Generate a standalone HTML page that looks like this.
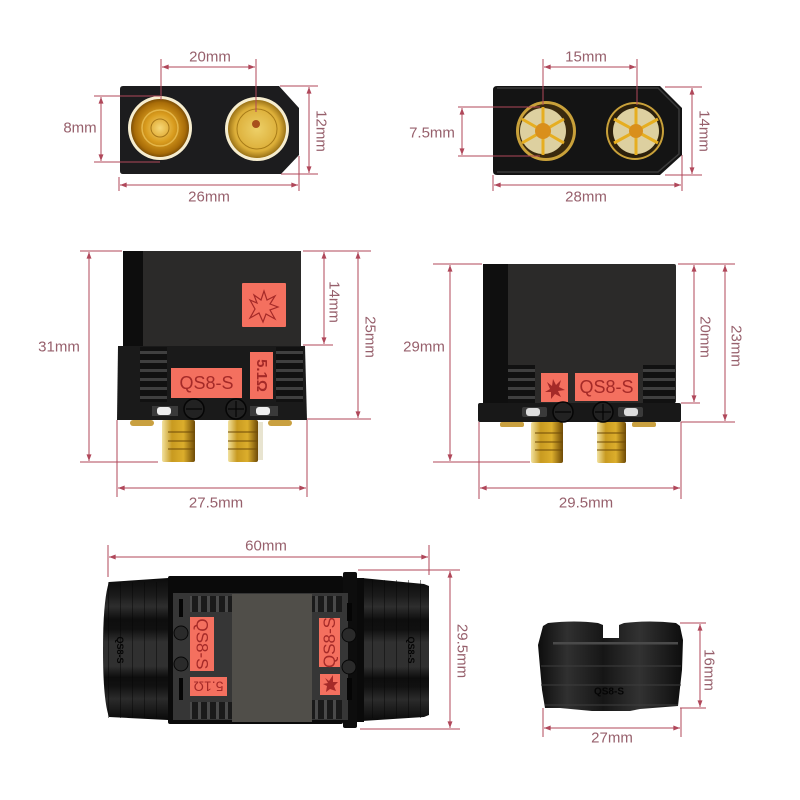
<!DOCTYPE html>
<html lang="en"><head><meta charset="utf-8"><title>QS8-S connector dimensions</title>
<style>
html,body{margin:0;padding:0;background:#fff}
svg{display:block;filter:blur(.35px)}
text{font-family:"Liberation Sans",sans-serif}
.d{font-size:15px;fill:#97606c;text-anchor:middle;dominant-baseline:central}
.l{fill:none;stroke:#b0475a;stroke-width:1}
.a{marker-start:url(#ar);marker-end:url(#ar)}
.lab{fill:#f4705f}
.t{fill:#a52a28;text-anchor:middle;dominant-baseline:central}
</style></head><body>
<svg width="800" height="800" viewBox="0 0 800 800" xmlns="http://www.w3.org/2000/svg">
<defs>
<marker id="ar" viewBox="0 0 8 6" refX="8" refY="3" markerWidth="7" markerHeight="5" orient="auto-start-reverse" markerUnits="userSpaceOnUse"><path d="M0 0L8 3L0 6Z" fill="#b0475a"/></marker>
<radialGradient id="g1" cx=".5" cy=".5" r=".55"><stop offset="0" stop-color="#f6d878"/><stop offset=".45" stop-color="#d99c1e"/><stop offset=".8" stop-color="#a86c08"/><stop offset="1" stop-color="#5a3604"/></radialGradient>
<radialGradient id="g2" cx=".5" cy=".5" r=".55"><stop offset="0" stop-color="#edd068"/><stop offset=".7" stop-color="#dcae38"/><stop offset="1" stop-color="#7e5808"/></radialGradient>
<linearGradient id="pin" x1="0" x2="1" y1="0" y2="0"><stop offset="0" stop-color="#f2e2a0"/><stop offset=".3" stop-color="#c89a20"/><stop offset=".65" stop-color="#dcae2c"/><stop offset="1" stop-color="#6e4a06"/></linearGradient>
<linearGradient id="hood" x1="0" x2="0" y1="0" y2="1"><stop offset="0" stop-color="#0c0c0c"/><stop offset=".12" stop-color="#1a1a1a"/><stop offset=".2" stop-color="#2e2e2e"/><stop offset=".29" stop-color="#0e0e0e"/><stop offset=".36" stop-color="#101010"/><stop offset=".45" stop-color="#303030"/><stop offset=".62" stop-color="#303030"/><stop offset=".7" stop-color="#0d0d0d"/><stop offset=".76" stop-color="#111"/><stop offset=".85" stop-color="#2b2b2b"/><stop offset="1" stop-color="#0a0a0a"/></linearGradient>
<linearGradient id="cap" x1="0" x2="1" y1="0" y2="0"><stop offset="0" stop-color="#0d0d0d"/><stop offset=".2" stop-color="#303030"/><stop offset=".45" stop-color="#161616"/><stop offset=".7" stop-color="#323232"/><stop offset="1" stop-color="#0d0d0d"/></linearGradient>
<pattern id="rib" width="6" height="9" patternUnits="userSpaceOnUse"><rect width="6" height="9" fill="#111"/><rect y="0" width="6" height="3" fill="#404040"/></pattern>
<pattern id="vrib" width="9" height="6" patternUnits="userSpaceOnUse"><rect width="9" height="6" fill="#1a1a1a"/><rect width="3" height="6" fill="#4a4a4a"/></pattern>
<pattern id="hrib2" width="12" height="6" patternUnits="userSpaceOnUse"><rect width="1" height="6" fill="#050505" opacity=".45"/></pattern>
</defs>
<rect width="800" height="800" fill="#fff"/>

<!-- Panel 1 -->
<path d="M123 86H279L299 108V155L281 174H123Q120 174 120 171V89Q120 86 123 86Z" fill="#1c1c1e"/>
<circle cx="160" cy="128" r="32" fill="#f6edcf"/><circle cx="160" cy="128" r="29" fill="url(#g1)"/>
<circle cx="160" cy="128" r="18" fill="none" stroke="#f0c860" stroke-width="1.5" opacity=".7"/><circle cx="160" cy="128" r="9" fill="none" stroke="#8c5c08" stroke-width="1" opacity=".7"/>
<circle cx="257" cy="129" r="32" fill="#f6edcf"/><circle cx="257" cy="129" r="29" fill="url(#g2)"/>
<circle cx="257" cy="129" r="20" fill="none" stroke="#a87c18" stroke-width="1"/><circle cx="256" cy="124" r="4" fill="#a8501c"/>
<g class="l">
<path d="M161 59V100M256 59V112M94 96H160M94 162H160M280 86H318M281 174H318M119 177V191M299 156V191"/>
<path class="a" d="M162 67H255"/><path class="a" d="M101 97V161"/><path class="a" d="M309 87V173"/><path class="a" d="M120 185H298"/>
</g>
<text class="d" x="210" y="57">20mm</text><text class="d" x="80" y="128">8mm</text>
<text class="d" transform="translate(321 131) rotate(90)">12mm</text><text class="d" x="209" y="197">26mm</text>

<!-- Panel 2 -->
<path d="M497 86H660L682 108V155L660 175H497Q493 175 493 171V90Q493 86 497 86Z" fill="#141414"/>
<path d="M497 88H658L679 109V154L658 172H497" fill="none" stroke="#3a3a3a" stroke-width="1.5"/>
<circle cx="546" cy="131" r="30" fill="#c9a13a"/><circle cx="546" cy="131" r="27" fill="#3a2a0e"/><circle cx="543" cy="131" r="23" fill="#ddd0a0"/>
<path d="M543 107V155M522 119L564 143M522 143L564 119" stroke="#e6ae20" stroke-width="3" fill="none"/><circle cx="543" cy="131" r="8" fill="#d98f1c"/>
<circle cx="635" cy="131" r="29" fill="#c9a13a"/><circle cx="635" cy="131" r="27" fill="#2c200c"/><circle cx="636" cy="131" r="23" fill="#ddd0a0"/>
<path d="M636 107V155M614 119L658 143M614 143L658 119" stroke="#e6ae20" stroke-width="3" fill="none"/><circle cx="636" cy="131" r="7" fill="#d98f1c"/>
<g class="l">
<path d="M543 59V105M637 59V105M458 107H540M458 156H540M665 87H702M665 175H702M493 175V191M682 155V191"/>
<path class="a" d="M544 67H636"/><path class="a" d="M462 108V155"/><path class="a" d="M692 88V174"/><path class="a" d="M494 185H681"/>
</g>
<text class="d" x="586" y="57">15mm</text><text class="d" x="432" y="133">7.5mm</text>
<text class="d" transform="translate(704 131) rotate(90)">14mm</text><text class="d" x="586" y="197">28mm</text>

<!-- Panel 3 -->
<rect x="130" y="420" width="24" height="6" rx="3" fill="#c9a040"/><rect x="268" y="420" width="24" height="6" rx="3" fill="#c9a040"/>
<rect x="162" y="420" width="33" height="42" rx="2" fill="url(#pin)"/>
<rect x="228" y="420" width="30" height="42" rx="2" fill="url(#pin)"/>
<path d="M168 432H195M168 441H195M168 449H195M228 432H258M228 441H258M228 449H258" stroke="#6e4a06" stroke-width="1"/>
<rect x="258" y="422" width="5" height="38" fill="#e8e4d0"/>
<rect x="123" y="251" width="178" height="95" fill="#2b2a29"/><rect x="123" y="251" width="20" height="95" fill="#0d0d0d"/>
<path d="M118 346H305L307 420H117Z" fill="#1a1a1a"/>
<rect x="140" y="347" width="27" height="55" fill="url(#rib)"/><rect x="276" y="347" width="27" height="55" fill="url(#rib)"/>
<rect x="242" y="283" width="44" height="44" rx="1" class="lab"/>
<path d="M250 300L257 303L254 295L261 300L264 291L267 300L275 296L270 304L278 307L270 310L275 319L266 314L263 322L259 313L250 318L255 309Z" fill="none" stroke="#a52a28" stroke-width="1.2"/>
<rect x="171" y="368" width="71" height="30" class="lab"/>
<text class="t" x="206.500" y="383" font-size="18">QS8-S</text>
<rect x="250" y="352" width="23" height="47" class="lab"/>
<text class="t" font-size="15" font-weight="bold" transform="translate(261.500 375.500) rotate(90)">5.1Ω</text>
<rect x="152" y="406" width="26" height="10" fill="#3a3a3a"/><rect x="157" y="407" width="14" height="8" rx="3" fill="#eee"/>
<rect x="250" y="406" width="28" height="10" fill="#3a3a3a"/><rect x="256" y="407" width="14" height="8" rx="3" fill="#eee"/>
<g fill="#222" stroke="#050505" stroke-width="1.5"><circle cx="194" cy="409" r="10"/><circle cx="236" cy="409" r="10"/></g>
<path d="M186 409H202M228 409H244M236 401V417" stroke="#050505" stroke-width="1.2"/>
<g class="l">
<path d="M80 251H122M80 462H158M303 251H371M303 345H333M307 419H371M117 420V497M307 420V497"/>
<path class="a" d="M89 252V461"/><path class="a" d="M324 252V344"/><path class="a" d="M358 252V418"/><path class="a" d="M118 488H306"/>
</g>
<text class="d" x="59" y="347">31mm</text><text class="d" transform="translate(334 302) rotate(90)">14mm</text>
<text class="d" transform="translate(370 337) rotate(90)">25mm</text><text class="d" x="216" y="503">27.5mm</text>

<!-- Panel 4 -->
<rect x="500" y="422" width="24" height="5" rx="2" fill="#c9a040"/><rect x="632" y="422" width="24" height="5" rx="2" fill="#c9a040"/>
<rect x="531" y="422" width="32" height="41" rx="2" fill="url(#pin)"/><rect x="597" y="422" width="29" height="41" rx="2" fill="url(#pin)"/>
<path d="M535 433H563M535 442H563M535 450H563M597 433H626M597 442H626M597 450H626" stroke="#6e4a06" stroke-width="1"/>
<rect x="483" y="264" width="193" height="139" rx="2" fill="#2b2a29"/><rect x="483" y="264" width="25" height="139" fill="#0f0f0f"/>
<rect x="508" y="365" width="27" height="38" fill="url(#rib)"/><rect x="643" y="365" width="32" height="38" fill="url(#rib)"/>
<rect x="478" y="403" width="203" height="19" rx="2" fill="#181818"/>
<rect x="541" y="373" width="27" height="29" class="lab"/>
<path d="M547 382L552 386L553 379L556 385L561 380L559 387L565 390L558 391L561 397L555 394L551 399L551 392L545 392L550 389Z" fill="#a52a28"/>
<rect x="575" y="373" width="63" height="28" class="lab"/>
<text class="t" x="606.500" y="387" font-size="18">QS8-S</text>
<rect x="522" y="407" width="25" height="10" rx="2" fill="#3a3a3a"/><rect x="526" y="408" width="14" height="8" rx="3" fill="#ddd"/>
<rect x="618" y="407" width="25" height="10" rx="2" fill="#3a3a3a"/><rect x="624" y="408" width="14" height="8" rx="3" fill="#ddd"/>
<g fill="#222" stroke="#050505" stroke-width="1.5"><circle cx="563" cy="412" r="10"/><circle cx="603" cy="412" r="10"/></g>
<path d="M555 412H571M595 412H611M603 404V420" stroke="#050505" stroke-width="1.2"/>
<g class="l">
<path d="M433 264H482M433 462H530M678 264H735M681 403H700M681 422H735M479 422V499M681 422V499"/>
<path class="a" d="M450 265V461"/><path class="a" d="M694 265V402"/><path class="a" d="M725 265V421"/><path class="a" d="M480 488H680"/>
</g>
<text class="d" x="424" y="347">29mm</text><text class="d" transform="translate(705 337) rotate(90)">20mm</text>
<text class="d" transform="translate(736 346) rotate(90)">23mm</text><text class="d" x="586" y="503">29.5mm</text>

<!-- Panel 5 -->
<path d="M109 582L168 578V720L109 717Q103 700 103 650Q103 600 109 582Z" fill="url(#hood)"/>
<rect x="108" y="582" width="60" height="136" fill="url(#hrib2)"/>
<path d="M362 578L424 584L429 586V715L424 717L362 721Z" fill="url(#hood)"/>
<rect x="362" y="580" width="67" height="138" fill="url(#hrib2)"/>
<rect x="168" y="576" width="175" height="148" rx="2" fill="#0a0a0a"/>
<rect x="343" y="572" width="14" height="156" rx="2" fill="#0d0d0d"/><rect x="357" y="578" width="7" height="144" fill="#0a0a0a"/>
<rect x="173" y="593" width="175" height="127" fill="#363636"/>
<rect x="190" y="596" width="42" height="16" fill="url(#vrib)"/><rect x="190" y="702" width="42" height="17" fill="url(#vrib)"/>
<rect x="312" y="596" width="30" height="16" fill="url(#vrib)"/><rect x="312" y="700" width="30" height="19" fill="url(#vrib)"/>
<rect x="232" y="594" width="80" height="128" fill="#504e49"/>
<rect x="190" y="617" width="24" height="54" class="lab"/>
<text class="t" font-size="17" transform="translate(202 644) rotate(90)">QS8-S</text>
<rect x="190" y="677" width="37" height="19" class="lab"/>
<text class="t" font-size="14" transform="translate(208.500 686.500) rotate(180)">5.1Ω</text>
<rect x="319" y="618" width="21" height="49" class="lab"/>
<text class="t" font-size="17" transform="translate(329.500 642.500) rotate(-90)">QS8-S</text>
<rect x="320" y="674" width="20" height="21" class="lab"/>
<path d="M325 678L329 681L333 675L333 682L338 682L334 686L336 691L330 689L326 692L327 686L323 684L328 683Z" fill="#a52a28"/>
<g fill="#2a2a2a" stroke="#070707"><circle cx="181" cy="633" r="7"/><circle cx="181" cy="664" r="7"/><circle cx="349" cy="635" r="7"/><circle cx="349" cy="667" r="7"/></g>
<g fill="#050505"><rect x="179" y="599" width="4" height="18"/><rect x="179" y="678" width="4" height="22"/><rect x="347" y="603" width="5" height="18"/><rect x="347" y="678" width="5" height="22"/></g>
<text x="120" y="650" font-size="9" font-weight="bold" fill="#050505" text-anchor="middle" dominant-baseline="central" transform="rotate(90 120 650)">QS8-S</text>
<text x="411" y="650" font-size="9" font-weight="bold" fill="#050505" text-anchor="middle" dominant-baseline="central" transform="rotate(90 411 650)">QS8-S</text>
<g class="l">
<path d="M108 545V577M429 545V575M358 570H460M360 729H460"/>
<path class="a" d="M109 557H428"/><path class="a" d="M450 571V728"/>
</g>
<text class="d" x="266" y="546">60mm</text><text class="d" transform="translate(462 651) rotate(90)">29.5mm</text>

<!-- Panel 6 -->
<path d="M548 623Q575 620 598 623L603 625V638H619V625L624 623Q650 620 676 623L680 626L683 640L682 670L678 706L640 709L630 711L592 711L560 708L545 708L542 690L538 645L543 626Z" fill="url(#cap)"/>
<rect x="553" y="642" width="125" height="2.500" fill="#4a4a4a"/>
<path d="M541 666H681M541 685H681M545 705H678" stroke="#3d3d3d" stroke-width="1"/>
<text x="609" y="692" font-size="10" font-weight="bold" fill="#050505" text-anchor="middle" dominant-baseline="central">QS8-S</text>
<g class="l">
<path d="M680 623H706M680 708H706M543 708V737M681 708V737"/>
<path class="a" d="M700 624V707"/><path class="a" d="M544 728H680"/>
</g>
<text class="d" transform="translate(709 670) rotate(90)">16mm</text><text class="d" x="612" y="738">27mm</text>
</svg>
</body></html>
